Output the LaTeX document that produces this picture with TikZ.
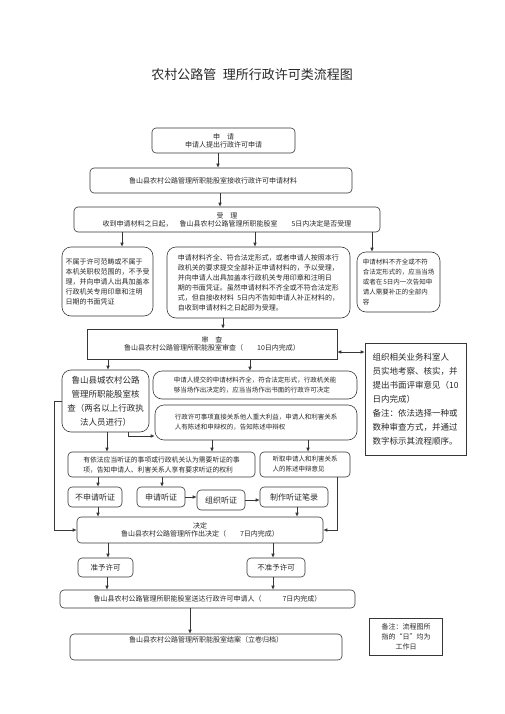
\documentclass[tikz,border=0pt]{standalone}
\usepackage{fontspec}
\setmainfont{Noto Sans CJK SC}
\usetikzlibrary{positioning,arrows.meta}
\definecolor{LineGray}{RGB}{55,55,55}
\definecolor{InkGray}{RGB}{40,40,40}
\tikzset{
  flow/.style={-{Latex[length=4pt,width=3.6pt]},semithick,draw=LineGray},
  twoway/.style={{Latex[length=4pt,width=3.6pt]}-{Latex[length=4pt,width=3.6pt]},semithick,draw=LineGray},
  roundbox/.style={draw=LineGray,semithick,rounded corners=4pt,inner sep=1pt,
    align=center,text=InkGray,font=\fontsize{7}{10}\selectfont},
  bigbox/.style={roundbox,rounded corners=9pt},
  squarebox/.style={draw=LineGray,semithick,inner sep=1pt,
    align=center,text=InkGray,font=\fontsize{7}{10}\selectfont},
  smalltext/.style={font=\fontsize{6.5}{10}\selectfont},
  largetext/.style={font=\fontsize{8.5}{14}\selectfont}
}

\begin{document}
\begin{tikzpicture}[x=1pt,y=-1pt]
  \useasboundingbox (0,0) rectangle (505,714);
  \node[text=InkGray,font=\fontsize{13}{15}\selectfont] (title) at (252,75) {农村公路管\enspace 理所行政许可类流程图};
  % apply and accept
  \node[roundbox,minimum width=143pt,minimum height=25pt] (apply) at (223.5,140.5) {申\quad 请\\[-2pt]申请人提出行政许可申请};
  \node[roundbox,minimum width=262pt,minimum height=25pt] (receive) at (221,180.5) {鲁山县农村公路管理所职能股室接收行政许可申请材料\hspace{16pt}};
  \node[roundbox,minimum width=306pt,minimum height=25pt] (accept) at (227,219.5) {受\quad 理\\[-2pt]收到申请材料之日起，\quad 鲁山县农村公路管理所职能股室\qquad 5日内决定是否受理};
  \node[bigbox,font=\fontsize{7}{10}\selectfont,align=left,minimum width=91pt,minimum height=69pt] (reject) at (107.5,281.5) {不属于许可范畴或不属于\\本机关职权范围的，不予受\\理，并向申请人出具加盖本\\行政机关专用印章和注明\\日期的书面凭证};
  \node[bigbox,font=\fontsize{7}{10}\selectfont,align=left,minimum width=183pt,minimum height=71pt] (admit) at (258.5,282.5) {申请材料齐全、符合法定形式，或者申请人按照本行\\政机关的要求提交全部补正申请材料的，予以受理，\\并向申请人出具加盖本行政机关专用印章和注明日\\期的书面凭证。虽然申请材料不齐全或不符合法定形\\式，但自接收材料\enspace 5日内不告知申请人补正材料的，\\自收到申请材料之日起即为受理。};
  \node[bigbox,smalltext,align=left,minimum width=83pt,minimum height=60pt] (amend) at (398.5,282) {申请材料不齐全或不符\\合法定形式的，应当当场\\或者在\,5日内一次告知申\\请人需要补正的全部内\\容};
  % review
  \node[squarebox,minimum width=250pt,minimum height=30pt] (review) at (212,344) {审\quad 查\\[-2pt]鲁山县农村公路管理所职能股室审查（\qquad 10日内完成）};
  \node[squarebox,largetext,align=left,minimum width=101pt,minimum height=112pt] (inspect) at (415.5,399) {组织相关业务科室人\\员实地考察、核实，并\\提出书面评审意见（10\\日内完成）\\备注：依法选择一种或\\数种审查方式，并通过\\数字标示其流程顺序。};
  \node[bigbox,largetext,minimum width=87pt,minimum height=62pt] (verify) at (105.5,401) {鲁山县城农村公路\\管理所职能股室核\\查（两名以上行政执\\法人员进行）};
  \node[bigbox,smalltext,align=left,minimum width=204pt,minimum height=28pt] (onsite) at (255,385) {申请人提交的申请材料齐全，符合法定形式，行政机关能\\够当场作出决定的，应当当场作出书面的行政许可决定};
  \node[bigbox,smalltext,align=left,minimum width=202pt,minimum height=35pt] (notify) at (256,422.5) {行政许可事项直接关系他人重大利益，申请人和利害关系\\人有陈述和申辩权的，告知陈述申辩权};
  % hearing
  \node[roundbox,font=\fontsize{6.8}{10}\selectfont,align=left,minimum width=187pt,minimum height=25pt] (hearing) at (161.5,464.5) {有依法应当听证的事项或行政机关认为需要听证的事\\项，告知申请人、利害关系人享有要求听证的权利};
  \node[roundbox,smalltext,align=left,minimum width=90pt,minimum height=25pt] (listen) at (305,464.5) {听取申请人和利害关系\\人的陈述申辩意见};
  \node[roundbox,font=\fontsize{8}{10}\selectfont,minimum width=54pt,minimum height=20pt] (nohear) at (95,497) {不申请听证};
  \node[roundbox,font=\fontsize{8}{10}\selectfont,minimum width=48pt,minimum height=20pt] (askhear) at (161,497) {申请听证};
  \node[roundbox,font=\fontsize{8}{10}\selectfont,minimum width=48pt,minimum height=20pt] (orghear) at (221,500) {组织听证};
  \node[roundbox,font=\fontsize{8}{10}\selectfont,minimum width=68pt,minimum height=20pt] (record) at (294,497) {制作听证笔录};
  % decision
  \node[roundbox,minimum width=246pt,minimum height=26pt] (decide) at (200,530) {决定\\[-2pt]鲁山县农村公路管理所作出决定（\qquad 7日内完成）};
  \node[roundbox,font=\fontsize{7.5}{10}\selectfont,minimum width=55pt,minimum height=19pt] (grant) at (105.5,567.5) {准予许可};
  \node[roundbox,font=\fontsize{7.5}{10}\selectfont,minimum width=58pt,minimum height=19pt] (deny) at (276,567.5) {不准予许可};
  \node[roundbox,minimum width=295pt,minimum height=18pt] (deliver) at (207.5,599) {鲁山县农村公路管理所职能股室送达行政许可申请人（\qquad\quad 7日内完成）};
  \node[roundbox,minimum width=272pt,minimum height=26pt] (close) at (206,647) {鲁山县农村公路管理所职能股室结案（立卷归档）\hspace{36pt}\\[2pt]\strut};
  \node[squarebox,minimum width=73pt,minimum height=37pt] (note) at (406,636.5) {备注：流程图所\\指的“日”均为\\工作日};
  % connectors
  \draw[flow] (218,0 |- apply.south) -- (218,0 |- receive.north);
  \draw[flow] (220,0 |- receive.south) -- (220,0 |- accept.north);
  \draw[flow] (122,0 |- accept.south) -- (122,0 |- reject.north);
  \draw[flow] (255,0 |- accept.south) -- (255,0 |- admit.north);
  \draw[flow] (372,0 |- accept.south) -- (372,0 |- amend.north);
  \draw[flow] (223,0 |- admit.south) -- (223,0 |- review.north);
  \draw[twoway] (review.east |- 0,352) -- (inspect.west |- 0,352);
  \draw[flow] (108,0 |- review.south) -- (108,0 |- verify.north);
  \draw[flow] (250,0 |- review.south) -- (250,0 |- onsite.north);
  \draw[flow] (128,0 |- verify.south) |- (notify.west |- 0,436);
  \draw[flow] (verify.west) -- ++(-7,0) |- (decide.west);
  \draw[flow] (107,0 |- verify.south) -- (107,0 |- hearing.north);
  \draw[flow] (212,0 |- notify.south) -- (212,0 |- hearing.north);
  \draw[flow] (308,0 |- notify.south) -- (308,0 |- listen.north);
  \draw[flow] (98,0 |- hearing.south) -- (98,0 |- nohear.north);
  \draw[flow] (162,0 |- hearing.south) -- (162,0 |- askhear.north);
  \draw[flow] (askhear.east) -- (orghear.west |- askhear.east);
  \draw[flow] (orghear.east) -- (record.west |- orghear.east);
  \draw[flow] (337,0 |- listen.south) |- (decide.east);
  \draw[flow] (98,0 |- nohear.south) -- (98,0 |- decide.north);
  \draw[flow] (297,0 |- record.south) -- (297,0 |- decide.north);
  \draw[flow] (108,0 |- decide.south) -- (108,0 |- grant.north);
  \draw[flow] (273,0 |- decide.south) -- (273,0 |- deny.north);
  \draw[flow] (107,0 |- grant.south) -- (107,0 |- deliver.north);
  \draw[flow] (273,0 |- deny.south) -- (273,0 |- deliver.north);
  \draw[flow] (190,0 |- deliver.south) -- (190,0 |- close.north);
\end{tikzpicture}
\end{document}
